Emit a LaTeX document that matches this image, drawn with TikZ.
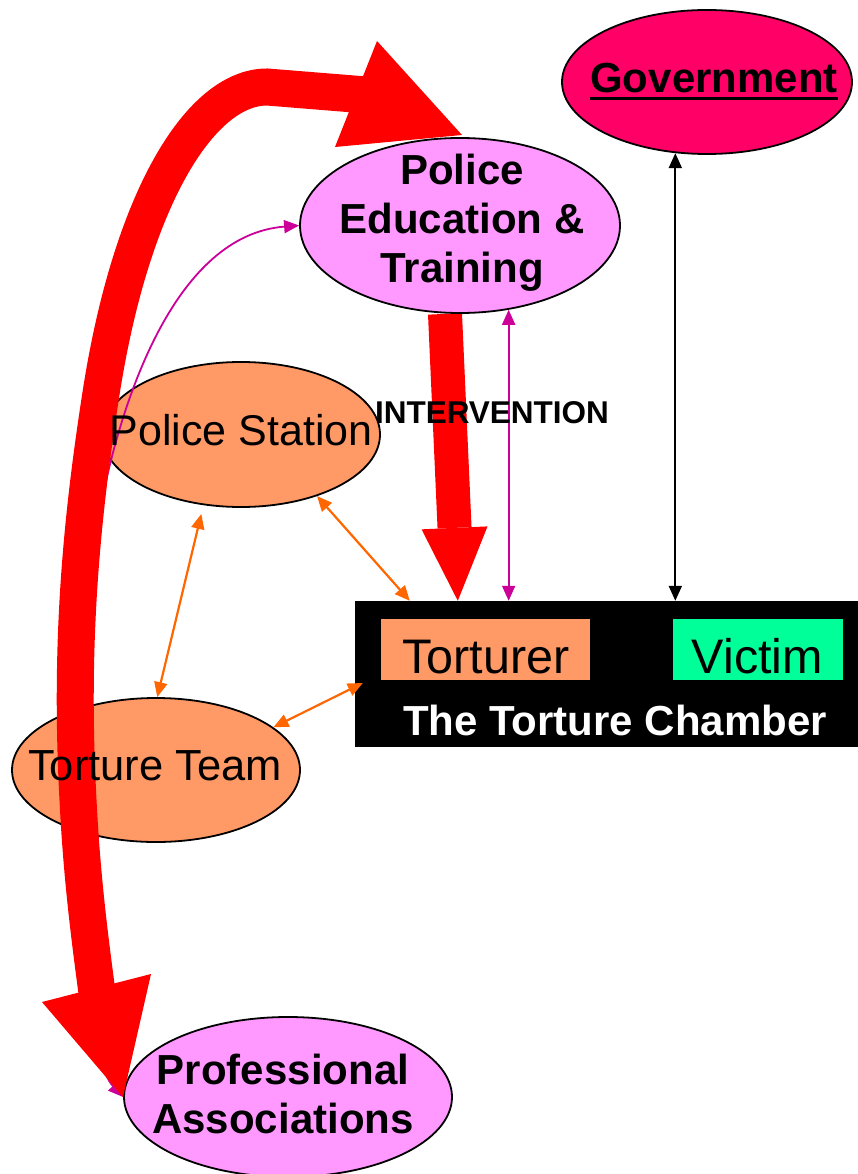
\documentclass[tikz,border=0pt]{standalone}
\usepackage{fontspec}
\setmainfont{Liberation Sans}
\usetikzlibrary{shapes.geometric,arrows.meta,calc,backgrounds}
\definecolor{pinkfill}{HTML}{FF99FF}
\definecolor{salmon}{HTML}{FF9966}
\definecolor{govred}{HTML}{FF0066}
\definecolor{victimgreen}{HTML}{00FF99}
\definecolor{magline}{HTML}{CC0099}
\definecolor{orangeline}{HTML}{FF6600}
\definecolor{bigred}{HTML}{FF0000}
\begin{document}
\begin{tikzpicture}[x=1pt,y=-1pt,
  >={Triangle[length=15pt,width=13pt]},
  oval/.style={ellipse, draw=black, line width=1.8pt, inner sep=0pt},
  boxnode/.style={inner sep=0pt, draw=none},
  plaintxt/.style={font=\fontsize{43}{48}\selectfont, inner sep=0pt, align=center},
  bigplain/.style={font=\fontsize{48.5}{54}\selectfont, inner sep=0pt, align=center},
  boldtxt/.style={font=\fontsize{42}{49}\selectfont\bfseries, inner sep=0pt, align=center},
  magarrow/.style={magline, line width=1.8pt, <->},
  orarrow/.style={orangeline, line width=2.2pt, <->},
  blkarrow/.style={black, line width=2pt, <->},
  redshaft/.style={bigred, line width=37pt},
  redhead/.style={fill=bigred, draw=none}
]
\useasboundingbox (0,0) rectangle (858,1174);

% shapes
\node[oval, fill=govred, minimum width=290pt, minimum height=144pt] (gov) at (707,82) {};
\node[oval, fill=pinkfill, minimum width=320pt, minimum height=175pt] (pe) at (460,225.5) {};
\node[oval, fill=salmon, minimum width=278pt, minimum height=145pt] (ps) at (241,434.5) {};
\node[oval, fill=salmon, minimum width=288pt, minimum height=144pt] (tt) at (156,770) {};
\node[oval, fill=pinkfill, minimum width=328pt, minimum height=160pt] (pa) at (288,1097) {};
\node[boxnode, fill=black, minimum width=503pt, minimum height=146pt] (chamber) at (606.5,674) {};
\node[boxnode, fill=salmon, minimum width=209pt, minimum height=61pt] (torturer) at (485.5,649.5) {};
\node[boxnode, fill=victimgreen, minimum width=170pt, minimum height=61pt] (victim) at (758,649.5) {};

% background: white page and the intervention arrow (behind the ellipse)
\begin{scope}[on background layer]
  \fill[white] (0,0) rectangle (858,1174);
  \draw[bigred, line width=34pt, -{Triangle[length=73pt,width=66pt,line width=0pt]}]
    ([xshift=-15pt]pe.south) -- ($(chamber.north west)+(103,0)$);
\end{scope}

% thin connectors
\draw[blkarrow] (gov.-114) -- (gov.-114 |- chamber.north);
\draw[magarrow] (pe.-60) -- (pe.-60 |- chamber.north);
\draw[orarrow] (ps.-39) -- ($(chamber.north west)+(55,0)$);
\draw[orarrow, shorten <=9pt] (ps.-118) -- (tt.89);
\draw[orarrow] (tt.20) -- ($(chamber.west)+(8,9)$);
\draw[magarrow] (pa.west) .. controls (70,1040) and (72,650) .. (102,500)
  .. controls (122,400) and (175,235) .. (pe.west);

% big curved red double arrow
\draw[redshaft] (366,95) -- (267,87) .. controls (200,87) and (130,200) .. (100,400)
  .. controls (80,530) and (70,650) .. (78,800) .. controls (82,880) and (90,940) .. (98,1000);
\fill[redhead] (462,135) -- (377,41) -- (335,147) -- cycle;
\fill[redhead] (123,1097) -- (42,1002) -- (151,974) -- cycle;

% texts
\node[boldtxt, anchor=base] (govtxt) at (714,93) {Government};
\draw[line width=3.5pt] ([yshift=-5.5pt]govtxt.base west) -- ([yshift=-5.5pt]govtxt.base east);
\node[boldtxt] (petxt) at (462,223) {Police\\Education \&\\Training};
\node[plaintxt, anchor=base] (pstxt) at (241,445) {Police Station};
\node[font=\fontsize{31.5}{36}\selectfont\bfseries, inner sep=0pt, anchor=base] (intv) at (492,423) {INTERVENTION};
\node[plaintxt, font=\fontsize{43.5}{48}\selectfont, anchor=base] (tttxt) at (155,780) {Torture Team};
\node[boldtxt] (patxt) at (283,1094) {Professional\\Associations};
\node[bigplain, anchor=base] (tortxt) at (486,673) {Torturer};
\node[bigplain, anchor=base] (victxt) at (757.5,673) {Victim};
\node[boldtxt, anchor=base, text=white] (chtxt) at (615,735) {The Torture Chamber};
\end{tikzpicture}
\end{document}
